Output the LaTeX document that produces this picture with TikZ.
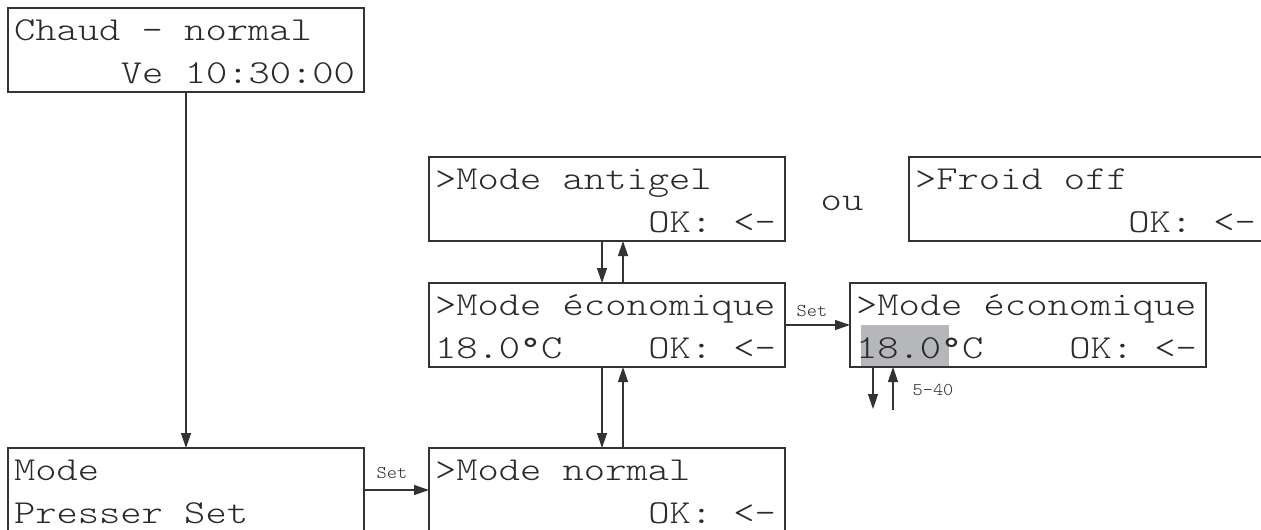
\documentclass[tikz,border=0pt]{standalone}
\usetikzlibrary{arrows.meta,calc}
\definecolor{ink}{HTML}{333333}
\definecolor{txt}{HTML}{2a2a2a}
\definecolor{hl}{RGB}{181,183,187}
\newcommand\lcdt[1]{\scalebox{1.21}[1]{\fontsize{33.5}{40}\ttfamily\fontseries{l}\selectfont #1}}
\newcommand\smallt[1]{\scalebox{1.08}[1]{\fontsize{18}{20}\ttfamily\fontseries{l}\selectfont #1}}
\newcommand\degr{{\fontseries{m}\selectfont °}}
\tikzset{
  lcdbox/.style={draw=ink, line width=1.3pt, minimum width=356pt, minimum height=84pt, inner sep=0pt, outer sep=0pt},
  lcd/.style={text=txt, inner sep=0pt, outer sep=0pt},
  lbl/.style={text=txt, inner sep=0pt},
  arr/.style={draw=ink, line width=1.3pt, -{Triangle[length=15pt,width=10pt]}}
}
\begin{document}
\begin{tikzpicture}[x=1pt,y=-1pt]
\useasboundingbox (0,0) rectangle (1261,530);
\clip (0,0) rectangle (1261,530);
% highlight
\fill[hl] (861,325) rectangle (949,366);
% boxes
\node[lcdbox] (A) at (186,50) {};
\node[lcdbox] (B) at (186,490) {};
\node[lcdbox] (C) at (607,490) {};
\node[lcdbox] (D) at (607,199) {};
\node[lcdbox] (E) at (607,325) {};
\node[lcdbox] (F) at (1087,199) {};
\node[lcdbox] (G) at (1028,325) {};
% texts
\node[lcd, anchor=base west] (a1) at ([shift={(6,32)}]A.north west) {\lcdt{Chaud - normal}};
\node[lcd, anchor=base east] (a2) at ([shift={(-9,75)}]A.north east) {\lcdt{Ve 10:30:00}};
\node[lcd, anchor=base west] (b1) at ([shift={(6,32)}]B.north west) {\lcdt{Mode}};
\node[lcd, anchor=base west] (b2) at ([shift={(6,75)}]B.north west) {\lcdt{Presser Set}};
\node[lcd, anchor=base west] (c1) at ([shift={(6,32)}]C.north west) {\lcdt{>Mode normal}};
\node[lcd, anchor=base east] (c2) at ([shift={(-9,75)}]C.north east) {\lcdt{OK: <-}};
\node[lcd, anchor=base west] (d1) at ([shift={(6,32)}]D.north west) {\lcdt{>Mode antigel}};
\node[lcd, anchor=base east] (d2) at ([shift={(-9,75)}]D.north east) {\lcdt{OK: <-}};
\node[lcd, anchor=base west] (e1) at ([shift={(6,32)}]E.north west) {\lcdt{>Mode économique}};
\node[lcd, anchor=base west] (e2) at ([shift={(6,75)}]E.north west) {\lcdt{18.0\degr C}};
\node[lcd, anchor=base east] (e3) at ([shift={(-9,75)}]E.north east) {\lcdt{OK: <-}};
\node[lcd, anchor=base west] (f1) at ([shift={(6,32)}]F.north west) {\lcdt{>Froid off}};
\node[lcd, anchor=base east] (f2) at ([shift={(-9,75)}]F.north east) {\lcdt{OK: <-}};
\node[lcd, anchor=base west] (g1) at ([shift={(6,32)}]G.north west) {\lcdt{>Mode économique}};
\node[lcd, anchor=base west] (g2) at ([shift={(6,75)}]G.north west) {\lcdt{18.0\degr C}};
\node[lcd, anchor=base east] (g3) at ([shift={(-9,75)}]G.north east) {\lcdt{OK: <-}};
\node[lcd, anchor=base] (ou) at (842,210) {\lcdt{ou}};
% labels
\node[lbl] (set1) at (392,473) {\smallt{Set}};
\node[lbl] (set2) at (812,311) {\smallt{Set}};
\node[lbl] (rng) at (933,390) {\smallt{5-40}};
% connectors
\draw[arr] (A.south) -- (B.north);
\draw[arr] (B.east) -- (C.west);
\draw[arr] (E.east) -- (G.west);
\draw[arr] ([xshift=-5pt]D.south) -- ([xshift=-5pt]E.north);
\draw[arr] ([xshift=16pt]E.north) -- ([xshift=16pt]D.south);
\draw[arr] ([xshift=-5pt]E.south) -- ([xshift=-5pt]C.north);
\draw[arr] ([xshift=16pt]C.north) -- ([xshift=16pt]E.south);
\coordinate (gd) at (873,409);
\coordinate (gu) at (893,410);
\draw[arr] (G.south -| gd) -- (gd);
\draw[arr] (gu) -- (gu |- G.south);
\end{tikzpicture}
\end{document}
